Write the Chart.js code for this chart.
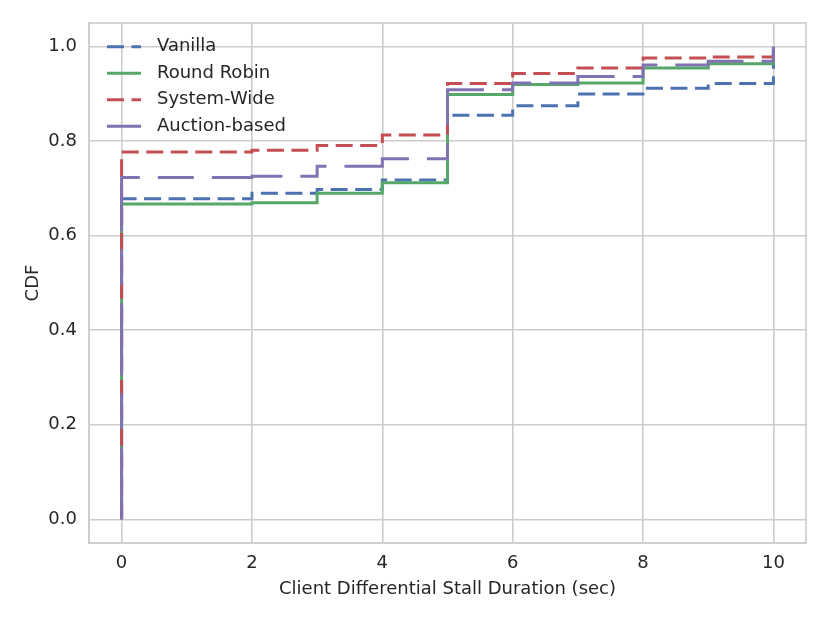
<!DOCTYPE html>
<html>
<head>
<meta charset="utf-8">
<title>CDF of client differential stall duration</title>
<script src="https://cdn.jsdelivr.net/npm/chart.js@4.4.0/dist/chart.umd.min.js"></script>
<style>
  html, body { margin: 0; padding: 0; background: #fff; }
  #wrap { width: 830px; height: 623px; }
</style>
</head>
<body>
<div id="wrap"><canvas id="cdfCanvas"></canvas></div>
<script>
// step positions (sec), first point is the start of the curve at y = 0
const stepX = [0, 0, 2, 3, 4, 5, 6, 7, 8, 9, 10];

const vanilla     = [0, 0.678, 0.690, 0.698, 0.718, 0.855, 0.875, 0.900, 0.912, 0.922, 1.0];
const roundRobin  = [0, 0.667, 0.670, 0.690, 0.712, 0.899, 0.920, 0.923, 0.955, 0.964, 1.0];
const systemWide  = [0, 0.777, 0.781, 0.791, 0.813, 0.922, 0.943, 0.955, 0.976, 0.978, 1.0];
const auctionBased = [0, 0.723, 0.726, 0.747, 0.763, 0.909, 0.923, 0.937, 0.961, 0.969, 1.0];

const xTicks = [0, 2, 4, 6, 8, 10];
const yTicks = [0, 0.2, 0.4, 0.6, 0.8, 1.0];

const gridColor = "#cccccc";
const textColor = "#262626";
const fontFamily = "'DejaVu Sans', sans-serif";
const fontSize = 18;

function toPoints(values) {
    let pts = [];
    for (let i = 0; i < values.length; i++) {
        pts.push({ x: stepX[i], y: values[i] });
    }
    return pts;
}

// top and right spines
const framePlugin = {
    id: "frame",
    beforeDatasetsDraw(chart) {
        const a = chart.chartArea;
        const ctx = chart.ctx;
        ctx.save();
        ctx.strokeStyle = gridColor;
        ctx.lineWidth = 1.6;
        ctx.strokeRect(a.left, a.top, a.right - a.left, a.bottom - a.top);
        ctx.restore();
    }
};

// legend drawn inside the plot, upper left
const legendPlugin = {
    id: "innerLegend",
    afterDatasetsDraw(chart) {
        const a = chart.chartArea;
        const ctx = chart.ctx;
        ctx.save();
        chart.data.datasets.forEach(function(ds, i) {
            const y = a.top + 23.7 + i * 26.5;
            ctx.beginPath();
            ctx.setLineDash(ds.borderDash || []);
            ctx.lineDashOffset = 0;
            ctx.strokeStyle = ds.borderColor;
            ctx.lineWidth = ds.borderWidth;
            ctx.moveTo(a.left + 18, y);
            ctx.lineTo(a.left + 52, y);
            ctx.stroke();
            ctx.setLineDash([]);
            ctx.fillStyle = textColor;
            ctx.font = fontSize + "px " + fontFamily;
            ctx.textAlign = "left";
            ctx.textBaseline = "middle";
            ctx.fillText(ds.label, a.left + 68, y);
        });
        ctx.restore();
    }
};

const cdfCanvas = document.getElementById("cdfCanvas");

const cdfChart = new Chart(cdfCanvas, {
    type: "line",
    data: {
        datasets: [
            { label: "Vanilla", data: toPoints(vanilla), borderColor: "#4C72B0",
              borderWidth: 3, borderDash: [17, 7.5], order: 3 },
            { label: "Round Robin", data: toPoints(roundRobin), borderColor: "#55A868",
              borderWidth: 3, order: 2 },
            { label: "System-Wide", data: toPoints(systemWide), borderColor: "#C44E52",
              borderWidth: 3, borderDash: [17, 7.5], order: 1 },
            { label: "Auction-based", data: toPoints(auctionBased), borderColor: "#8172B2",
              borderWidth: 3, borderDash: [72, 18, 36, 18], order: 0 }
        ]
    },
    options: {
        responsive: true,
        maintainAspectRatio: false,
        animation: false,
        datasets: {
            line: { stepped: "before", pointRadius: 0, fill: false, borderCapStyle: "butt", borderJoinStyle: "miter" }
        },
        layout: { padding: { top: 23, right: 24, left: 0, bottom: 0 } },
        scales: {
            x: {
                type: "linear",
                min: -0.5,
                max: 10.5,
                afterBuildTicks: function(scale) {
                    scale.ticks = xTicks.map(function(v) { return { value: v }; });
                },
                afterFit: function(scale) { scale.height = 80; },
                ticks: {
                    autoSkip: false,
                    maxRotation: 0,
                    padding: 10,
                    color: textColor,
                    font: { family: fontFamily, size: fontSize },
                    callback: function(value) { return String(value); }
                },
                grid: { color: gridColor, lineWidth: 1.6, drawTicks: false },
                border: { display: true, color: gridColor, width: 1.6 },
                title: {
                    display: true,
                    text: "Client Differential Stall Duration (sec)",
                    color: textColor,
                    font: { family: fontFamily, size: fontSize },
                    padding: { top: 0, bottom: 23 }
                }
            },
            y: {
                min: -0.05,
                max: 1.05,
                afterBuildTicks: function(scale) {
                    scale.ticks = yTicks.map(function(v) { return { value: v }; });
                },
                afterFit: function(scale) { scale.width = 89; },
                ticks: {
                    autoSkip: false,
                    padding: 12,
                    color: textColor,
                    font: { family: fontFamily, size: fontSize },
                    callback: function(value) { return value.toFixed(1); }
                },
                grid: { color: gridColor, lineWidth: 1.6, drawTicks: false },
                border: { display: true, color: gridColor, width: 1.6 },
                title: {
                    display: true,
                    text: "CDF",
                    color: textColor,
                    font: { family: fontFamily, size: fontSize },
                    padding: { top: 23, bottom: 0 }
                }
            }
        },
        plugins: {
            legend: { display: false }, // legend drawn by innerLegend instead
            tooltip: { enabled: false }
        }
    },
    plugins: [framePlugin, legendPlugin]
});
</script>
</body>
</html>
